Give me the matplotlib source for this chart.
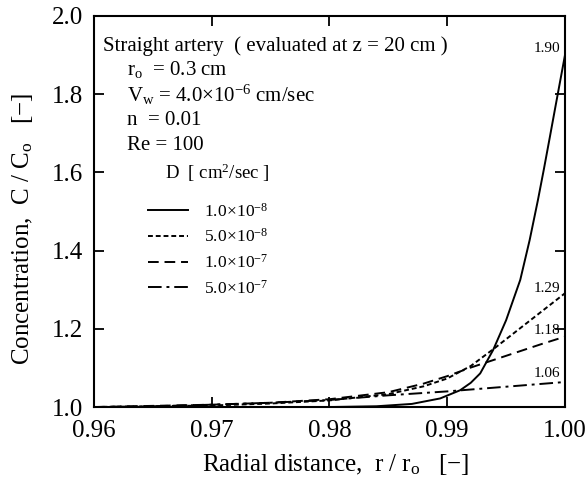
import matplotlib
matplotlib.use("Agg")
import matplotlib.pyplot as plt

plt.rcParams['font.family'] = ['Liberation Serif', 'DejaVu Serif']
plt.rcParams['mathtext.fontset'] = 'custom'
plt.rcParams['mathtext.rm'] = 'Liberation Serif'
plt.rcParams['mathtext.it'] = 'Liberation Serif:italic'

# Data
r_solid = [0.960, 0.980, 0.984, 0.987, 0.9894, 0.9911, 0.9920, 0.9928, 0.9939, 0.9950, 0.9962,
           0.9970, 0.9977, 0.9982, 0.9987, 0.9992, 0.9996, 1.000]
c_solid = [1.000, 1.000, 1.002, 1.008, 1.022, 1.043, 1.062, 1.086, 1.146, 1.222, 1.325,
           1.427, 1.529, 1.607, 1.688, 1.770, 1.835, 1.900]

r_short = [0.960, 0.970, 0.975, 0.980, 0.985, 0.988, 0.990, 0.992, 0.994, 0.996, 0.998, 1.000]
c_short = [1.000, 1.004, 1.009, 1.017, 1.033, 1.053, 1.073, 1.105, 1.150, 1.197, 1.244, 1.291]

r_long = [0.960, 0.970, 0.975, 0.980, 0.985, 0.988, 0.990, 0.992, 0.994, 0.996, 0.998, 1.000]
c_long = [1.000, 1.006, 1.011, 1.020, 1.038, 1.060, 1.079, 1.101, 1.121, 1.141, 1.161, 1.180]

r_dd = [0.960, 0.965, 0.970, 0.975, 0.980, 0.985, 0.990, 0.995, 1.000]
c_dd = [1.000, 1.002, 1.006, 1.011, 1.018, 1.030, 1.040, 1.052, 1.064]

end_labels = ['1.90', '1.29', '1.18', '1.06']
legend_labels = [r'$\mathregular{1.0\!\times\!10^{-8}}$', r'$\mathregular{5.0\!\times\!10^{-8}}$',
                 r'$\mathregular{1.0\!\times\!10^{-7}}$', r'$\mathregular{5.0\!\times\!10^{-7}}$']
x_ticks = [0.96, 0.97, 0.98, 0.99, 1.00]
x_ticklabels = ['0.96', '0.97', '0.98', '0.99', '1.00']
y_ticks = [1.0, 1.2, 1.4, 1.6, 1.8, 2.0]
y_ticklabels = ['1.0', '1.2', '1.4', '1.6', '1.8', '2.0']

fig = plt.figure(figsize=(5.87, 4.84), dpi=100)
ax = fig.add_axes([0.160, 0.159, 0.8025, 0.808])

styles = ['-', (0, (2.5, 1.5)), (0, (5.5, 3)), (0, (7, 2.5, 1.5, 2.5))]
series = [(r_solid, c_solid), (r_short, c_short), (r_long, c_long), (r_dd, c_dd)]
handles = []
for (rx, cy), ls in zip(series, styles):
    h, = ax.plot(rx, cy, color='black', lw=1.4, linestyle=ls)
    handles.append(h)

ax.set_xlim(0.96, 1.00)
ax.set_ylim(1.0, 2.0)
ax.set_xticks(x_ticks)
ax.set_xticklabels(x_ticklabels)
ax.set_yticks(y_ticks)
ax.set_yticklabels(y_ticklabels)
ax.tick_params(direction='in', length=7, width=1.3, top=True, right=True, labelsize=18)
ax.tick_params(axis='x', pad=9)
ax.tick_params(axis='y', pad=8)
for s in ax.spines.values():
    s.set_linewidth(1.5)

ax.set_xlabel(r'Radial distance,  r / r$_\mathregular{o}$   [$-$]', fontsize=18)
ax.set_ylabel(r'Concentration,  C / C$_\mathregular{o}$   [$-$]', fontsize=18)
ax.xaxis.set_label_coords(0.513, -0.115)
ax.yaxis.set_label_coords(-0.125, 0.457)

# End value labels
label_y = [1.918, 1.304, 1.197, 1.087]
for lab, yv in zip(end_labels, label_y):
    ax.text(0.99958, yv, lab, fontsize=11, ha='right', va='center')

# Annotation text
tf = 15
ax.text(0.9608, 1.923, 'Straight artery  ( evaluated at z = 20 cm )', fontsize=tf, va='center')
ax.text(0.9628, 1.862, r'r$_\mathregular{o}$  = 0.3 cm', fontsize=tf, va='center')
ax.text(0.9628, 1.797, r'V$_\mathregular{w}$ = 4.0$\mathregular{\times10^{-6}}$ cm/sec', fontsize=tf, va='center')
ax.text(0.9628, 1.732, 'n  = 0.01', fontsize=tf, va='center')
ax.text(0.9628, 1.668, 'Re = 100', fontsize=tf, va='center')
ax.text(0.9660, 1.600, r'D  [ cm$\mathregular{^2}$/sec ]', fontsize=13.5, va='center')

ax.legend(handles, legend_labels, loc='upper left', bbox_to_anchor=(0.10, 0.541),
          frameon=False, fontsize=12.5, handlelength=2.3, handletextpad=0.9,
          labelspacing=0.45, borderaxespad=0)

fig.savefig('out.png', dpi=100)
